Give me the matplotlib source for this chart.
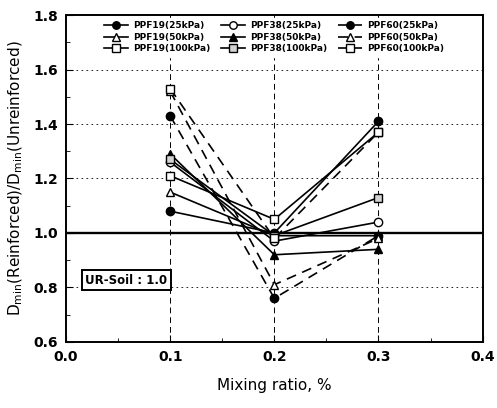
import numpy as np
import matplotlib.pyplot as plt
from matplotlib.ticker import MultipleLocator

# Mixing ratio (%)
ratio = [0.1, 0.2, 0.3]

# Dmin(reinforced)/Dmin(unreinforced)
ppf19_25 = [1.08, 1.00, 1.41]
ppf19_50 = [1.15, 0.99, 0.99]
ppf19_100 = [1.21, 1.05, 1.37]
ppf38_25 = [1.26, 0.97, 1.04]
ppf38_50 = [1.29, 0.92, 0.94]
ppf38_100 = [1.27, 0.99, 1.13]
ppf60_25 = [1.43, 0.76, 0.99]
ppf60_50 = [1.52, 0.81, 0.98]
ppf60_100 = [1.53, 0.98, 1.37]

fig = plt.figure(figsize=(4.97, 4.08), dpi=100)
ax = fig.add_axes([0.133, 0.162, 0.838, 0.801])

# reference line of unreinforced soil
ax.axhline(1.0, color='black', lw=1.7, zorder=2)

# dashed grid
for gx in [0.1, 0.2, 0.3]:
    ax.axvline(gx, color='black', lw=0.7, ls=(0, (6, 4)), zorder=1)
for gy in [0.8, 1.2, 1.4, 1.6]:
    ax.axhline(gy, color='black', lw=0.6, ls=(0, (2, 4)), zorder=1)

ms = 6
ax.plot(ratio, ppf19_25, '-', color='black', lw=1.2, marker='o', mfc='black', ms=ms, label='PPF19(25kPa)')
ax.plot(ratio, ppf19_50, '-', color='black', lw=1.2, marker='^', mfc='white', ms=ms, label='PPF19(50kPa)')
ax.plot(ratio, ppf19_100, '-', color='black', lw=1.2, marker='s', mfc='white', ms=ms, label='PPF19(100kPa)')
ax.plot(ratio, ppf38_25, '-', color='black', lw=1.2, marker='o', mfc='white', ms=ms, label='PPF38(25kPa)')
ax.plot(ratio, ppf38_50, '-', color='black', lw=1.2, marker='^', mfc='black', ms=ms, label='PPF38(50kPa)')
ax.plot(ratio, ppf38_100, '-', color='black', lw=1.2, marker='s', mfc='lightgray', ms=ms, label='PPF38(100kPa)')
ax.plot(ratio, ppf60_25, '--', color='black', lw=1.2, marker='o', mfc='black', ms=ms, dashes=(6, 4), label='PPF60(25kPa)')
ax.plot(ratio, ppf60_50, '--', color='black', lw=1.2, marker='^', mfc='white', ms=ms, dashes=(6, 4), label='PPF60(50kPa)')
ax.plot(ratio, ppf60_100, '--', color='black', lw=1.2, marker='s', mfc='white', ms=ms, dashes=(6, 4), label='PPF60(100kPa)')

ax.set_xlim(0.0, 0.4)
ax.set_ylim(0.6, 1.8)
ax.xaxis.set_minor_locator(MultipleLocator(0.05))
ax.yaxis.set_minor_locator(MultipleLocator(0.1))
ax.tick_params(which='both', direction='in', top=False, right=False)
ax.tick_params(which='major', length=5, labelsize=10, pad=6)
ax.tick_params(which='minor', length=3)
ax.set_xticks(np.arange(0, 0.41, 0.1))
ax.set_xticklabels(['0.0', '0.1', '0.2', '0.3', '0.4'], fontweight='bold')
ax.set_yticks(np.arange(0.6, 1.81, 0.2))
ax.set_yticklabels(['0.6', '0.8', '1.0', '1.2', '1.4', '1.6', '1.8'], fontweight='bold')
for sp in ax.spines.values():
    sp.set_linewidth(1.4)

ax.set_xlabel('Mixing ratio, %', fontsize=11, labelpad=10)
ax.set_ylabel(r'D$_{\mathrm{min}}$(Reinforced)/D$_{\mathrm{min}}$(Unreinforced)', fontsize=11, labelpad=6)

leg = ax.legend(ncol=3, loc='upper center', bbox_to_anchor=(0.5, 1.0), frameon=True,
                fontsize=6.5, handlelength=2.6, columnspacing=1.2, handletextpad=0.6,
                labelspacing=0.25, borderaxespad=0.3, fancybox=False, edgecolor='white',
                framealpha=1.0, markerscale=0.9)
for t in leg.get_texts():
    t.set_fontweight('bold')
leg.set_zorder(5)

ax.text(0.058, 0.827, 'UR-Soil : 1.0', fontsize=8.5, fontweight='bold', ha='center', va='center',
        bbox=dict(boxstyle='square,pad=0.3', fc='white', ec='black', lw=1.4), zorder=6)

fig.savefig('out.png', dpi=100)
